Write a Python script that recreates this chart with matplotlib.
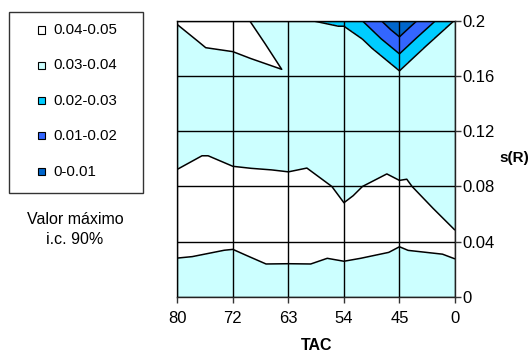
import matplotlib
matplotlib.use("Agg")
import matplotlib.pyplot as plt
import matplotlib.tri as mtri
from matplotlib.patches import Rectangle

plt.rcParams['font.family'] = ['Liberation Sans', 'DejaVu Sans']

# categories (TAC) and series (s(R))
tac_labels = ['80', '72', '63', '54', '45', '0']
sr_values = [0, 0.04, 0.08, 0.12, 0.16, 0.2]

# max CI value at each grid node, one list per s(R) row (left to right = 80 .. 0)
z_sr000 = [0.035, 0.035, 0.035, 0.0378, 0.035, 0.038]
z_sr004 = [0.0421, 0.0408, 0.0433, 0.0412, 0.0405, 0.0409]
z_sr008 = [0.0418, 0.0423, 0.0418, 0.0395, 0.0410, 0.0366]
z_sr012 = [0.036, 0.036, 0.035, 0.036, 0.0319, 0.036]
z_sr016 = [0.036, 0.0367, 0.0394, 0.0336, 0.033, 0.036]
z_sr020 = [0.0403, 0.0442, 0.0303, 0.0296, 0.0005, 0.0305]

# value at the middle of each grid cell (rows between s(R) values)
zc_row0 = [0.0382, 0.0392, 0.0392, 0.0392, 0.0389]
zc_row1 = [0.042, 0.042, 0.0415, 0.0410, 0.0409]
zc_row2 = [0.0405, 0.0388, 0.0391, 0.0388, 0.0372]
zc_row3 = [0.036, 0.036, 0.0355, 0.034, 0.034]
zc_row4 = [0.0399, 0.0419, 0.0316, 0.0302, 0.032]

levels = [0, 0.01, 0.02, 0.03, 0.04, 0.05]
band_labels = ['0-0.01', '0.01-0.02', '0.02-0.03', '0.03-0.04', '0.04-0.05']
band_colors = ['#0066CC', '#3366FF', '#00CCFF', '#CCFFFF', '#FFFFFF']

grid = [z_sr000, z_sr004, z_sr008, z_sr012, z_sr016, z_sr020]
centers = [zc_row0, zc_row1, zc_row2, zc_row3, zc_row4]
nx, ny = len(tac_labels), len(sr_values)

# points: grid nodes then cell centres, each cell split in 4 triangles
xs, ys, zs = [], [], []
for j in range(ny):
    for i in range(nx):
        xs.append(i); ys.append(sr_values[j]); zs.append(grid[j][i])
for j in range(ny - 1):
    for i in range(nx - 1):
        xs.append(i + 0.5); ys.append((sr_values[j] + sr_values[j + 1]) / 2)
        zs.append(centers[j][i])
tris = []
for j in range(ny - 1):
    for i in range(nx - 1):
        bl = j * nx + i; br = bl + 1; tl = bl + nx; tr = tl + 1
        c = nx * ny + j * (nx - 1) + i
        tris += [[bl, br, c], [br, tr, c], [tr, tl, c], [tl, bl, c]]
tri = mtri.Triangulation(xs, ys, tris)

W, H = 531, 352
fig = plt.figure(figsize=(W / 100, H / 100), dpi=100)
ax = fig.add_axes([177.3 / W, 1 - 297 / H, (455 - 177.3) / W, (297 - 20.7) / H])

ax.tricontourf(tri, zs, levels=levels, colors=band_colors)
ax.tricontour(tri, zs, levels=levels[1:-1], colors='black', linewidths=1.1)

ax.set_xlim(0, nx - 1)
ax.set_ylim(0, 0.2)
ax.set_xticks(range(nx))
ax.set_xticklabels(tac_labels)
ax.set_yticks(sr_values)
ax.set_yticklabels(['0', '0.04', '0.08', '0.12', '0.16', '0.2'])
ax.yaxis.tick_right()
ax.tick_params(axis='both', labelsize=12, length=4, width=1, color='#333333')
ax.tick_params(axis='x', pad=6)
ax.tick_params(axis='y', pad=1.5)
ax.set_axisbelow(False)
ax.grid(True, color='black', linewidth=1.0)
for sp in ax.spines.values():
    sp.set_color('#222222')
    sp.set_linewidth(1.0)

fig.text(317 / W, 1 - 346 / H, 'TAC', ha='center', va='center',
         fontsize=11.5, fontweight='bold')
fig.text(514 / W, 1 - 158 / H, 's(R)', ha='center', va='center',
         fontsize=11, fontweight='bold')

# legend box
fig.add_artist(Rectangle((9.3 / W, 1 - 192.7 / H), (143.3 - 9.3) / W, (192.7 - 11.7) / H,
                         transform=fig.transFigure, facecolor='white',
                         edgecolor='#333333', linewidth=1.0))
entry_y = [30, 65, 100.7, 136, 171.7]
for k, yy in enumerate(entry_y):
    b = len(band_labels) - 1 - k
    fig.add_artist(Rectangle((38 / W, 1 - (yy + 3.5) / H), 7 / W, 7 / H,
                             transform=fig.transFigure, facecolor=band_colors[b],
                             edgecolor='black', linewidth=0.8))
    fig.text(53.5 / W, 1 - yy / H, band_labels[b], ha='left', va='center', fontsize=10.8)

fig.text(75 / W, 1 - 219 / H, 'Valor máximo', ha='center', va='center', fontsize=11.5)
fig.text(75 / W, 1 - 239.5 / H, 'i.c. 90%', ha='center', va='center', fontsize=11.5)

fig.savefig('out.png', dpi=100)
